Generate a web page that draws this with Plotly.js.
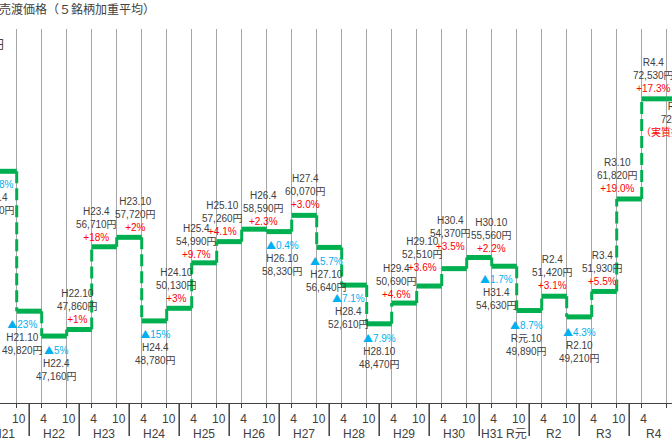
<!DOCTYPE html>
<html>
<head>
<meta charset="utf-8">
<script src="https://cdn.plot.ly/plotly-3.0.1.min.js"></script>
<style>
  html, body { margin: 0; padding: 0; background: #fff; }
  #chart { width: 672px; height: 446px; }
</style>
</head>
<body>
<div id="chart"></div>
<script>
// periods (April / October revisions) and wheat resale prices (yen/t)
const periods = ["H21.4", "H21.10", "H22.4", "H22.10", "H23.4", "H23.10", "H24.4", "H24.10",
  "H25.4", "H25.10", "H26.4", "H26.10", "H27.4", "H27.10", "H28.4", "H28.10", "H29.4", "H29.10",
  "H30.4", "H30.10", "H31.4", "R元.10", "R2.4", "R2.10", "R3.4", "R3.10", "R4.4", "R4.10"];
const prices = [64780, 49820, 47160, 47860, 56710, 57720, 48780, 50130,
  54990, 57260, 58590, 58330, 60070, 56640, 52610, 48470, 50690, 52510,
  54370, 55560, 54630, 49890, 51420, 49210, 51930, 61820, 72530, 72530];
const changes = ["▲14.8%", "▲23%", "▲5%", "+1%", "+18%", "+2%", "▲15%", "+3%",
  "+9.7%", "+4.1%", "+2.3%", "▲0.4%", "+3.0%", "▲5.7%", "▲7.1%", "▲7.9%", "+4.6%", "+3.6%",
  "+3.5%", "+2.2%", "▲1.7%", "▲8.7%", "+3.1%", "▲4.3%", "+5.5%", "+19.0%", "+17.3%", "（実質据え置き）"];

// hand placement of the labels (px from segment centre / px gap to segment)
const labelDx = [-10, -7, 2, -2, -8, 6, 1, -3, -8, -7, 9, 3, 1, -3, -6, 0, -8, -7, -4, 12, -8, -3, -2, 0, -2, -12, -1, 2];
const labelGap = [11, 11, 12, 11, 10, 10, 11, 10, 9, 11, 8, 11, 11, 12, 11, 12, 9, 19, 23, 10, 11, 12, 11, 13, 10, 11, 11, 8];

const GREEN = "#00b050";
const RED = "#ff0000";
const BLUE = "#00b0f0";
const TEXT = "#404040";
const FONT = "Liberation Sans, Arial, Noto Sans CJK JP, sans-serif";
const CJK = "Noto Sans CJK JP, sans-serif";

const X_MIN = -16.7 / 25;
const X_MAX = (672 - 16.7) / 25;

/* ---------- Helpers ---------- */

function formatYen(n) {
  return Number(n).toLocaleString("en-US") + "円";
}

// x position of period k (first period sits left of the picture)
function xOf(k) {
  return k - 1;
}

function yearOf(p) {
  return p.split(".")[0];
}

function monthOf(p) {
  return p.split(".")[1];
}

function changeText(c, color) {
  if (c.startsWith("▲")) {
    return `<span style="color:${color}"><span style="font-family:${CJK}">▲</span>${c.slice(1)}</span>`;
  }
  return `<span style="color:${color}">${c}</span>`;
}

/* ---------- Traces ---------- */

function buildSteps() {
  const hx = [], hy = [], vx = [], vy = [];
  prices.forEach((v, k) => {
    hx.push(xOf(k), xOf(k) + 1, null);
    hy.push(v, v, null);
    if (k > 0) {
      vx.push(xOf(k), xOf(k), null);
      vy.push(prices[k - 1], v, null);
    }
  });
  return [
    {
      x: vx, y: vy, type: "scatter", mode: "lines",
      line: { color: GREEN, width: 3, dash: "12px,5px" },
      hoverinfo: "skip",
    },
    {
      x: hx, y: hy, type: "scatter", mode: "lines",
      line: { color: GREEN, width: 5 },
      hoverinfo: "skip",
    },
  ];
}

/* ---------- Annotations ---------- */

function buildLabels() {
  return periods.map((p, k) => {
    const c = changes[k];
    const price = formatYen(prices[k]);
    let text, below;
    if (c.startsWith("▲")) {
      below = true;
      text = `${changeText(c, BLUE)}<br>${p}<br>${price}`;
    } else if (c.startsWith("+")) {
      below = false;
      text = `${p}<br>${price}<br>${changeText(c, RED)}`;
    } else {
      below = true;
      text = `${p}<br>${price}<br>${changeText(c, RED)}`;
    }
    // anchor must stay inside the axis range or plotly hides the label
    let ax = xOf(k) + 0.5;
    let dx = labelDx[k];
    if (ax > X_MAX) { ax = xOf(k); dx += 12.5; }
    if (ax < X_MIN) { ax = xOf(k) + 1; dx -= 12.5; }
    const shift = labelGap[k] - 8;
    return {
      x: ax,
      y: prices[k],
      xref: "x",
      yref: "y",
      text: text,
      showarrow: false,
      xanchor: "center",
      yanchor: below ? "top" : "bottom",
      xshift: dx,
      yshift: below ? -shift : shift,
      align: "center",
      font: { family: FONT, size: 10, color: TEXT },
    };
  });
}

function buildYearAxis() {
  // group periods by fiscal-year label
  const groups = [];
  periods.forEach((p, k) => {
    const y = yearOf(p);
    const last = groups[groups.length - 1];
    if (last && last.label === y) last.xs.push(xOf(k));
    else groups.push({ label: y, xs: [xOf(k)], month: monthOf(p) });
  });

  const annotations = groups.map((g) => ({
    x: g.xs.reduce((a, b) => a + b, 0) / g.xs.length,
    y: 0,
    xref: "x",
    yref: "paper",
    yshift: -31,
    yanchor: "middle",
    text: g.label,
    showarrow: false,
    font: { family: FONT, size: 12, color: TEXT },
  }));

  // separator before every group that starts in April
  const shapes = [];
  groups.forEach((g, i) => {
    if (i === 0 || g.month !== "4") return;
    const xs = g.xs[0] - 0.5;
    shapes.push({
      type: "line", xref: "x", yref: "paper",
      x0: xs, x1: xs, y0: 0, y1: -33 / 374,
      line: { color: TEXT, width: 1.5 },
    });
  });
  return { annotations, shapes };
}

/* ---------- Render ---------- */

function render() {
  const yearAxis = buildYearAxis();

  const annotations = buildLabels().concat(yearAxis.annotations, [
    {
      xref: "paper", yref: "paper", x: 157 / 672, y: 1, yshift: 21,
      xanchor: "right", yanchor: "middle", showarrow: false,
      text: "輸入小麦の政府売渡価格（５銘柄加重平均）",
      font: { family: CJK, size: 12, color: TEXT },
    },
    {
      xref: "paper", yref: "paper", x: 6 / 672, y: 1, yshift: -14,
      xanchor: "right", yanchor: "middle", showarrow: false,
      text: "円",
      font: { family: CJK, size: 12, color: TEXT },
    },
  ]);

  const layout = {
    width: 672,
    height: 446,
    margin: { t: 29, r: 0, l: 0, b: 43 },
    paper_bgcolor: "#ffffff",
    plot_bgcolor: "#ffffff",
    showlegend: false,
    xaxis: {
      range: [X_MIN, X_MAX],
      tickmode: "array",
      tickvals: periods.map((p, k) => xOf(k)),
      ticktext: periods.map((p) => monthOf(p)),
      ticklabelshift: 2,
      showgrid: true,
      gridcolor: "#a6a6a6",
      gridwidth: 1.5,
      zeroline: false,
      showline: true,
      linecolor: TEXT,
      linewidth: 1.3,
      ticks: "outside",
      ticklen: 4,
      tickcolor: TEXT,
      tickwidth: 1.3,
      tickfont: { family: FONT, size: 12, color: TEXT },
      fixedrange: true,
    },
    yaxis: {
      range: [40000, 80000],
      visible: false,
      showgrid: false,
      zeroline: false,
      fixedrange: true,
    },
    annotations: annotations,
    shapes: yearAxis.shapes,
  };

  Plotly.newPlot("chart", buildSteps(), layout, { displayModeBar: false, staticPlot: true });
}

document.addEventListener("DOMContentLoaded", render);
</script>
</body>
</html>
